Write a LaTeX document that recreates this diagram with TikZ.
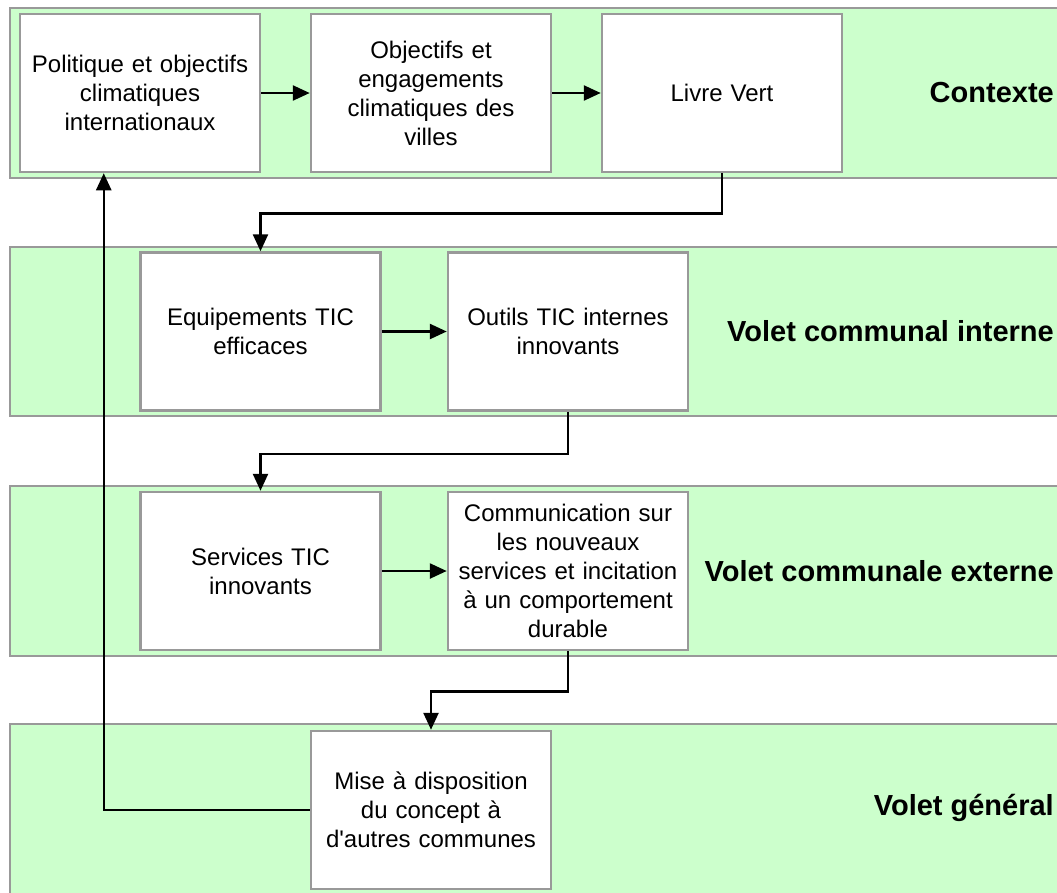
\documentclass[tikz,border=0pt]{standalone}
\usepackage{fontspec}
\setmainfont{Liberation Sans}
\usetikzlibrary{arrows.meta,positioning,calc}
\definecolor{bandfill}{HTML}{CCFFCC}
\definecolor{edgegray}{HTML}{999999}

\begin{document}
\begin{tikzpicture}[x=1pt, y=-1pt,
  band/.style={draw=edgegray, line width=2.5pt, fill=bandfill},
  box/.style={draw=edgegray, line width=2.5pt, fill=white,
    minimum width=240pt, minimum height=158pt, text width=226pt,
    align=center, inner sep=0pt, font=\fontsize{24}{29}\selectfont},
  volet/.style={anchor=east, inner sep=0pt,
    font=\bfseries\fontsize{29}{34}\selectfont},
  arr/.style={-{Triangle[length=17pt,width=15pt]}, line width=2.5pt}]
  % Frame
  \useasboundingbox (0,0) rectangle (1057,892);
  \clip (0,0) rectangle (1057,892);

  % Green bands
  \draw[band] (10,8) rectangle (1070,178);
  \draw[band] (10,247) rectangle (1070,416);
  \draw[band] (10,486) rectangle (1070,656);
  \draw[band] (10,724) rectangle (1070,900);

  % Band titles
  \node[volet] (ctx) at (1054,93) {Contexte};
  \node[volet] (vint) at (1054,331) {Volet communal interne};
  \node[volet] (vext) at (1054,571) {Volet communale externe};
  \node[volet] (vgen) at (1054,808) {Volet général};

  % Boxes
  \node[box] (polit) at (140,93) {Politique et objectifs\\climatiques\\internationaux};
  \node[box] (objvil) at (431,93) {Objectifs et\\engagements\\climatiques des\\villes};
  \node[box] (livre) at (722,93) {Livre Vert};
  \node[box] (equip) at (260.5,331.5) {Equipements TIC\\efficaces};
  \node[box] (outils) at (568,331.5) {Outils TIC internes\\innovants};
  \node[box] (serv) at (260.5,571) {Services TIC\\innovants};
  \node[box] (comm) at (568,571) {Communication sur\\les nouveaux\\services et incitation\\à un comportement\\durable};
  \node[box] (mise) at (431,810) {Mise à disposition\\du concept à\\d\textquotesingle autres communes};

  % Connectors
  \draw[arr] (polit) -- (objvil);
  \draw[arr] (objvil) -- (livre);
  \draw[arr] (livre.south) -- ++(0,40) -| (equip.north);
  \draw[arr] (equip) -- (outils);
  \draw[arr] (outils.south) -- ++(0,42) -| (serv.north);
  \draw[arr] (serv) -- (comm);
  \draw[arr] (comm.south) -- ++(0,40) -| (mise.north);
  \draw[arr] (mise.west) -| ([xshift=85pt]polit.south west);
\end{tikzpicture}
\end{document}
